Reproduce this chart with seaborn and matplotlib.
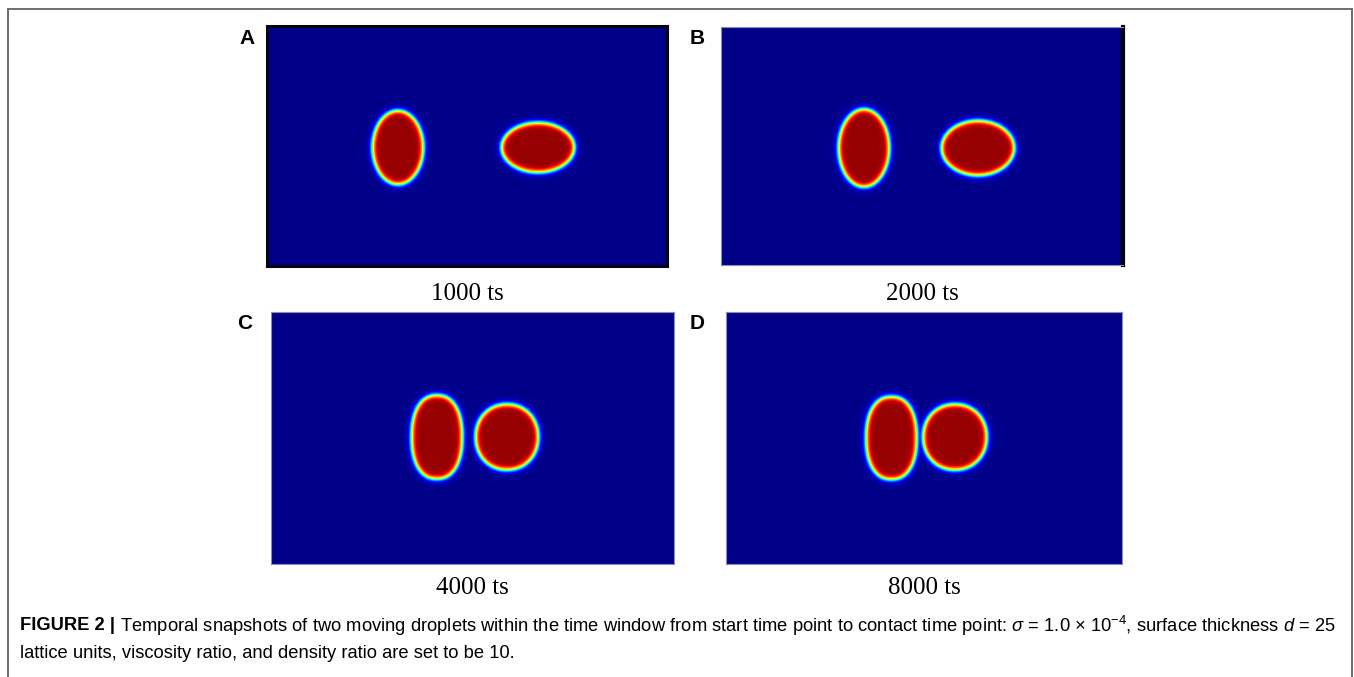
import numpy as np
import matplotlib
matplotlib.use("Agg")
import matplotlib.pyplot as plt
from matplotlib import font_manager
from matplotlib.lines import Line2D
import seaborn as sns

# ---- panel content -------------------------------------------------------
panel_letters = ["A", "B", "C", "D"]
time_labels = ["1000 ts", "2000 ts", "4000 ts", "8000 ts"]

# lattice size of each snapshot (columns, rows)
grid_cols = [400, 402, 403, 396]
grid_rows = [240, 238, 252, 252]

# left droplet: centre, semi-axes and squareness exponent (lattice units)
left_cx = [131, 143, 166, 165.5]
left_cy = [121.5, 121, 125, 126]
left_ax = [25.5, 25.5, 25.5, 25.5]
left_ay = [37, 39, 42, 41.5]
left_p = [2.0, 2.0, 2.3, 2.3]

# right droplet
right_cx = [271, 257, 236, 229]
right_cy = [121.5, 121, 125, 125]
right_ax = [36.5, 36.5, 31.5, 32]
right_ay = [25, 27.5, 33, 33]
right_p = [2.0, 2.0, 2.1, 2.1]

interface_width = 3.2          # diffuse interface half-width (lattice units)
phase_low, phase_high = 0.01, 0.98

caption_bold = "FIGURE 2 |"
caption_line1 = (r" Temporal snapshots of two moving droplets within the time window from start "
                 r"time point to contact time point: $\sigma$ = 1.0 × 10$^{-4}$, surface thickness $d$ = 25")
caption_line2 = "lattice units, viscosity ratio, and density ratio are set to be 10."

# ---- layout (pixels in a 1354 x 677 canvas) -------------------------------
W, H = 1354, 677
panel_boxes = [(267, 26, 400, 240), (721, 27, 402, 238),
               (271, 312, 403, 252), (726, 312, 396, 252)]
letter_pos = [(247, 39), (697, 38), (245, 323), (697, 323)]
label_y = [294, 294, 588, 588]


def droplet_phase(nx, ny, cx, cy, ax, ay, p):
    x = np.arange(nx) + 0.5
    y = np.arange(ny) + 0.5
    X, Y = np.meshgrid(x, y)
    r = ((np.abs(X - cx) / ax) ** p + (np.abs(Y - cy) / ay) ** p) ** (1.0 / p)
    gy, gx = np.gradient(r)
    g = np.hypot(gx, gy) + 1e-6
    dist = (r - 1.0) / g
    return 0.5 * (1.0 - np.tanh(dist / interface_width))


def order_parameter(i):
    a = droplet_phase(grid_cols[i], grid_rows[i], left_cx[i], left_cy[i],
                      left_ax[i], left_ay[i], left_p[i])
    b = droplet_phase(grid_cols[i], grid_rows[i], right_cx[i], right_cy[i],
                      right_ax[i], right_ay[i], right_p[i])
    phi = np.maximum(a, b)
    return phase_low + (phase_high - phase_low) * phi


fig = plt.figure(figsize=(W / 100, H / 100), dpi=100)
fig.patch.set_facecolor("white")


def rect(px, py, pw, ph):
    return [px / W, 1 - (py + ph) / H, pw / W, ph / H]


for i in range(4):
    ax = fig.add_axes(rect(*panel_boxes[i]))
    sns.heatmap(order_parameter(i), ax=ax, cmap="jet", vmin=0, vmax=1,
                cbar=False, xticklabels=False, yticklabels=False, rasterized=True)
    ax.tick_params(left=False, bottom=False)
    for side, sp in ax.spines.items():
        sp.set_visible(True)
        sp.set_color("#8a8fb0")
        sp.set_linewidth(0.8)
    if i == 0:
        for sp in ax.spines.values():
            sp.set_color("#050510")
            sp.set_linewidth(2.2)
    if i == 1:
        ax.spines["right"].set_color("#050510")
        ax.spines["right"].set_linewidth(3.0)

    lx, ly = letter_pos[i]
    fig.text(lx / W, 1 - ly / H, panel_letters[i], ha="center", va="center",
             fontsize=15, fontweight="bold", family="Liberation Sans")
    px, py, pw, ph = panel_boxes[i]
    fig.text((px + pw / 2) / W, 1 - label_y[i] / H, time_labels[i], ha="center",
             va="center", fontsize=18, family="Liberation Serif")

# outer frame (open at the bottom)
frame_kw = dict(color="#6e6e6e", linewidth=1.4, transform=fig.transFigure)
fig.add_artist(Line2D([8 / W, 8 / W], [0, 1 - 9 / H], **frame_kw))
fig.add_artist(Line2D([8 / W, 1352 / W], [1 - 9 / H, 1 - 9 / H], **frame_kw))
fig.add_artist(Line2D([1352 / W, 1352 / W], [0, 1 - 9 / H], **frame_kw))

# caption
names = {f.name for f in font_manager.fontManager.ttflist}
cap_family = "Liberation Sans Narrow" if "Liberation Sans Narrow" in names else "Liberation Sans"
plt.rcParams["mathtext.fontset"] = "custom"
plt.rcParams["mathtext.rm"] = cap_family
plt.rcParams["mathtext.it"] = cap_family + ":italic"

cap_x0, cap_x1 = 20, 1333
line1_y, line2_y = 626, 653
renderer = fig.canvas.get_renderer()


def place_caption(fs):
    t_b = fig.text(cap_x0 / W, 1 - line1_y / H, caption_bold, ha="left", va="center",
                   fontsize=fs, fontweight="bold", family=cap_family)
    wb = t_b.get_window_extent(renderer).width
    t_r = fig.text((cap_x0 + wb) / W, 1 - line1_y / H, caption_line1, ha="left",
                   va="center", fontsize=fs, family=cap_family)
    wr = t_r.get_window_extent(renderer).width
    t_2 = fig.text(cap_x0 / W, 1 - line2_y / H, caption_line2, ha="left", va="center",
                   fontsize=fs, family=cap_family)
    return [t_b, t_r, t_2], wb + wr


texts, width = place_caption(10)
for t in texts:
    t.remove()
fs = 10 * (cap_x1 - cap_x0) / width
place_caption(fs)

fig.savefig("out.png", dpi=100, facecolor="white")
